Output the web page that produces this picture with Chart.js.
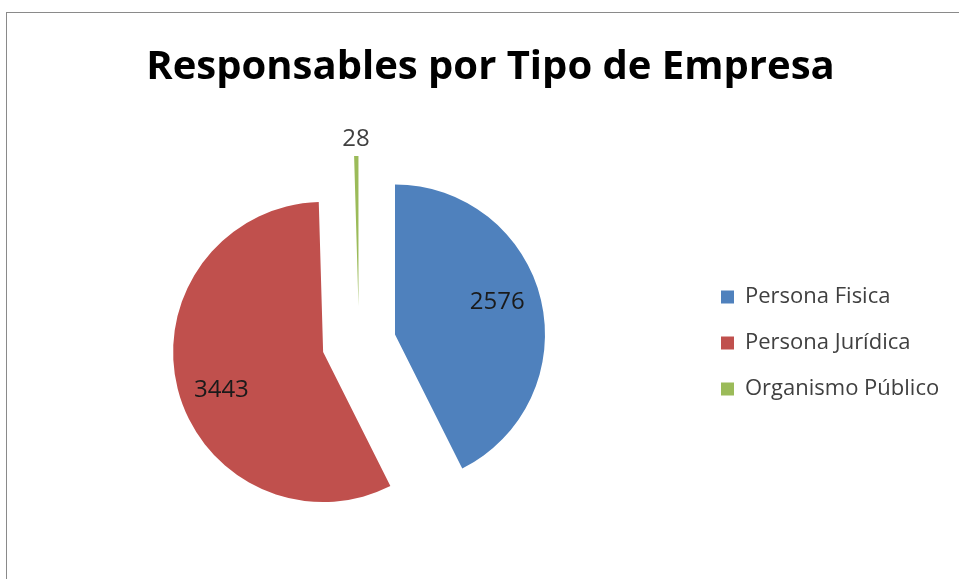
<!DOCTYPE html>
<html>
<head>
<meta charset="utf-8">
<script src="https://cdn.jsdelivr.net/npm/chart.js@4.4.1/dist/chart.umd.min.js"></script>
<style>
  html, body { margin: 0; padding: 0; background: #fff; overflow: hidden; width: 959px; height: 579px; }
  #frame { position: absolute; left: 6px; top: 12px; width: 1000px; height: 600px; border: 1px solid #8a8a8a; box-sizing: border-box; }
  #c { position: absolute; left: 0; top: 0; }
</style>
</head>
<body>
<div id="frame"></div>
<canvas id="c" width="980" height="579"></canvas>
<script>
const titleText = 'Responsables por Tipo de Empresa';
const categories = ['Persona Fisica', 'Persona Jurídica', 'Organismo Público'];
const values = [2576, 3443, 28];
const sliceColors = ['#4F81BD', '#C0504D', '#9BBB59'];

const EXPLODE = 37;
const PIE_RADIUS = 150;
const LEGEND_WIDTH = 263;
const LABEL_ROTATE = -0.095;

const explodePlugin = {
  id: 'explode',
  beforeDatasetDraw(chart, args) {
    const ctx = chart.ctx;
    args.meta.data.forEach((arc) => {
      const mid = (arc.startAngle + arc.endAngle) / 2;
      ctx.save();
      ctx.translate(Math.cos(mid) * EXPLODE, Math.sin(mid) * EXPLODE);
      arc.draw(ctx, chart.chartArea);
      ctx.restore();
    });
    return false;
  }
};

const legendWidthPlugin = {
  id: 'legendWidth',
  beforeLayout(chart) {
    const lg = chart.legend;
    if (lg && !lg._fixedWidth) {
      const origFit = lg.fit.bind(lg);
      lg.fit = function () { origFit(); this.width = LEGEND_WIDTH; };
      lg._fixedWidth = true;
    }
  }
};

const labelPlugin = {
  id: 'sliceLabels',
  afterDatasetsDraw(chart) {
    const ctx = chart.ctx;
    const meta = chart.getDatasetMeta(0);
    const total = values.reduce((a, b) => a + b, 0);
    meta.data.forEach((arc, i) => {
      const mid = (arc.startAngle + arc.endAngle) / 2;
      const vx = arc.x + Math.cos(mid) * EXPLODE;
      const vy = arc.y + Math.sin(mid) * EXPLODE;
      const small = values[i] / total < 0.05;
      const dist = small ? arc.outerRadius + 17 : arc.outerRadius * 0.72;
      const ang = small ? mid : mid + LABEL_ROTATE;
      const x = vx + Math.cos(ang) * dist;
      const y = vy + Math.sin(ang) * dist + (small ? 0 : 2);
      ctx.save();
      ctx.font = '24px "Open Sans"';
      ctx.fillStyle = small ? '#404040' : '#1a1a1a';
      ctx.textAlign = 'center';
      ctx.textBaseline = 'middle';
      ctx.fillText(String(values[i]), x, y);
      ctx.restore();
    });
  }
};

new Chart(document.getElementById('c'), {
  type: 'pie',
  data: {
    labels: categories,
    datasets: [{
      data: values,
      backgroundColor: sliceColors,
      borderWidth: 0
    }]
  },
  options: {
    responsive: false,
    animation: false,
    radius: PIE_RADIUS,
    layout: { padding: { left: 21, right: 20, top: 0, bottom: 3 } },
    plugins: {
      title: {
        display: true,
        text: titleText,
        color: '#000',
        font: { family: 'Open Sans', size: 40, weight: 'bold', lineHeight: 1.2 },
        padding: { top: 44, bottom: 18 }
      },
      legend: {
        position: 'right',
        fullSize: false,
        labels: {
          boxWidth: 13,
          boxHeight: 13,
          padding: 24,
          color: '#404040',
          font: { family: 'Open Sans', size: 22 }
        }
      },
      tooltip: { enabled: false }
    }
  },
  plugins: [explodePlugin, legendWidthPlugin, labelPlugin]
});
</script>
</body>
</html>
